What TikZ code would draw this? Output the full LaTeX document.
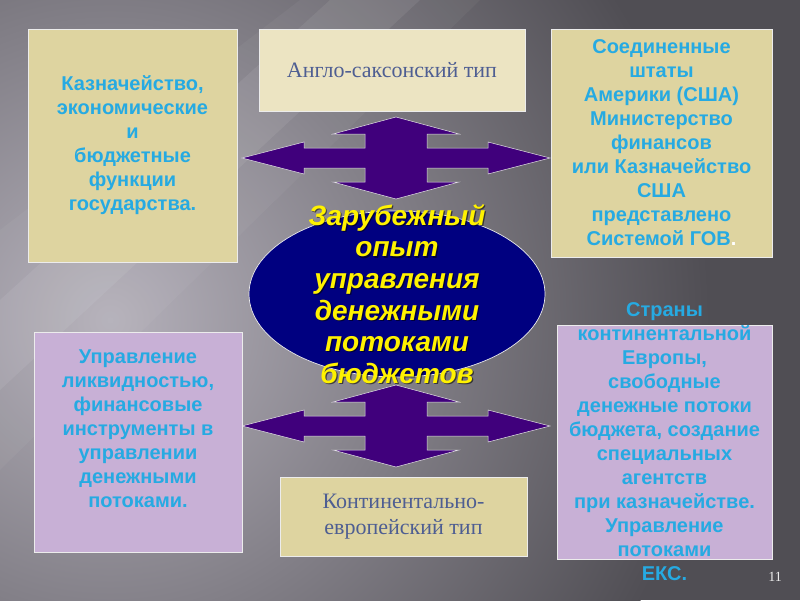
\documentclass[tikz,border=0pt]{standalone}
\usepackage{fontspec}
\setmainfont{Liberation Serif}
\setsansfont{Liberation Sans}
\usetikzlibrary{shapes.geometric}

\definecolor{tanbg}{RGB}{222,212,160}
\definecolor{creambg}{RGB}{236,228,194}
\definecolor{lilacbg}{RGB}{200,176,214}
\definecolor{skytxt}{RGB}{38,170,226}
\definecolor{slatetxt}{RGB}{78,94,146}
\definecolor{navyfill}{RGB}{0,0,128}
\definecolor{arrowfill}{RGB}{64,0,124}
\definecolor{bglight}{RGB}{180,176,186}
\definecolor{bgdark}{RGB}{80,78,84}

\begin{document}
\begin{tikzpicture}[x=1pt,y=-1pt,
    panel/.style={draw=white!85!gray, line width=0.7pt, inner sep=0pt},
    bluetext/.style={text=skytxt, align=center,
        font=\sffamily\bfseries\fontsize{20}{24}\selectfont},
    typetext/.style={text=slatetxt, align=center,
        font=\fontsize{22}{25.5}\selectfont},
    coretext/.style={align=center,
        font=\sffamily\bfseries\itshape\fontsize{28}{31.6}\selectfont}]
    \useasboundingbox (0,0) rectangle (800,600);

    % фон
    \begin{scope}
        \clip (0,0) rectangle (800,600);
        \fill[bgdark] (0,0) rectangle (800,600);
        \shade[inner color=bglight, outer color=bgdark] (110,320) circle (600);
        \fill[white, opacity=0.07] (0,300)--(0,390)--(420,0)--(330,0)--cycle;
        \fill[white, opacity=0.04] (0,230)--(0,470)--(480,0)--(300,0)--cycle;
    \end{scope}

    % двойные стрелки
    \foreach \cy in {158,426}
        \filldraw[fill=arrowfill, draw=white!80!gray, line width=0.5pt, shift={(396,\cy)}]
        (0,-41)--(63,-24)--(31,-24)--(31,-10)--(92,-10)--(92,-16)--(154,0)
        --(92,16)--(92,10)--(31,10)--(31,24)--(63,24)--(0,41)--(-63,24)
        --(-31,24)--(-31,10)--(-92,10)--(-92,16)--(-154,0)--(-92,-16)
        --(-92,-10)--(-31,-10)--(-31,-24)--(-63,-24)--cycle;

    % прямоугольники
    \node[panel, fill=tanbg, minimum width=209pt, minimum height=233pt] (kazn) at (132.5,145.5) {};
    \node[panel, fill=creambg, minimum width=266pt, minimum height=82pt] (anglo) at (392,70) {};
    \node[panel, fill=tanbg, minimum width=221pt, minimum height=228pt] (usa) at (661.5,143) {};
    \node[panel, fill=lilacbg, minimum width=208pt, minimum height=220pt] (likv) at (138,442) {};
    \node[panel, fill=tanbg, minimum width=247pt, minimum height=79pt] (kont) at (403.5,516.5) {};
    \node[panel, fill=lilacbg, minimum width=215pt, minimum height=234pt] (evr) at (664.5,442) {};

    \node[ellipse, fill=navyfill, draw=white!85!gray, line width=0.7pt,
        minimum width=296pt, minimum height=166pt] (core) at (397,294) {};

    % тексты
    \node[bluetext] (kaznt) at (kazn.center) {Казначейство,\\экономические\\и\\бюджетные\\функции\\государства.};
    \node[typetext] (anglot) at (anglo.center) {Англо-саксонский тип};
    \node[bluetext] (usat) at (usa.center) {Соединенные\\штаты\\Америки (США)\\Министерство\\финансов\\или Казначейство\\США\\представлено\\Системой ГОВ{\color{white}.}};
    \node[bluetext] (likvt) at ([yshift=13pt]likv.center) {Управление\\ликвидностью,\\финансовые\\инструменты в\\управлении\\денежными\\потоками.};
    \node[typetext] (kontt) at (kont.center) {Континентально-\\европейский тип};
    \node[bluetext] (evrt) at (evr.center) {Страны\\континентальной\\Европы,\\свободные\\денежные потоки\\бюджета, создание\\специальных\\агентств\\при казначействе.\\Управление\\потоками\\ЕКС.};
    \node[coretext, text=black, opacity=0.55] (coreshadow) at ([xshift=1.2pt,yshift=-1.2pt]core.center) {Зарубежный\\опыт\\управления\\денежными\\потоками\\бюджетов};
    \node[coretext, text=yellow] (coret) at (core.center) {Зарубежный\\опыт\\управления\\денежными\\потоками\\бюджетов};

    \node[text=white!85!gray, font=\fontsize{14}{16}\selectfont] (pagenum) at (775,577) {11};
\end{tikzpicture}
\end{document}
